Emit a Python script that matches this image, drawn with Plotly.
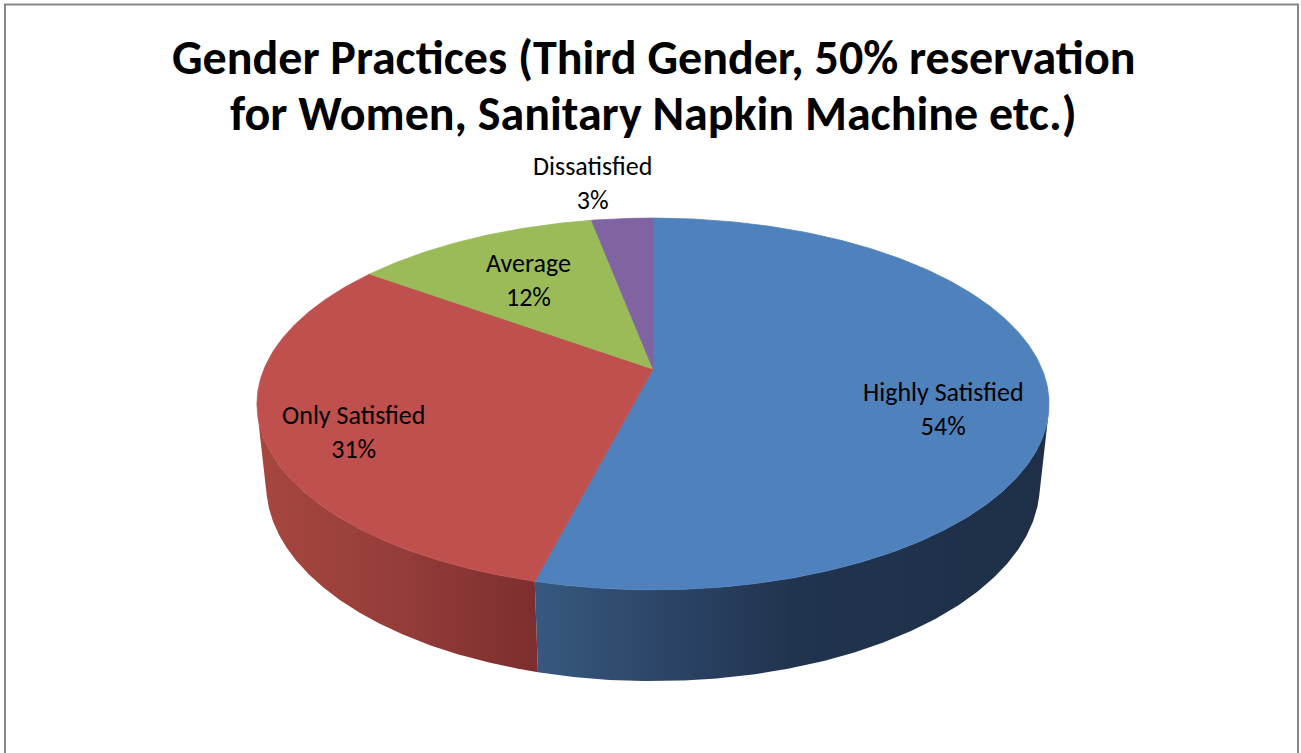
import numpy as np
import plotly.graph_objects as go

# ---------------- data ----------------
categories = ["Highly Satisfied", "Only Satisfied", "Average", "Dissatisfied"]
values = [54, 31, 12, 3]
title_lines = ["Gender Practices (Third Gender, 50% reservation",
               "for Women, Sanitary Napkin Machine etc.)"]

# ---------------- styles ----------------
top_colors = ["#4F81BD", "#C0504D", "#9BBB59", "#8064A2"]
side_scales = [
    [[0, "#37597f"], [0.25, "#2c4567"], [0.5, "#21344f"], [1, "#1e2f47"]],
    [[0, "#a7473f"], [0.5, "#953d3a"], [1, "#7c2e2e"]],
    [[0, "#7b9443"], [1, "#5e7233"]],
    [[0, "#65508a"], [1, "#4d3d6a"]],
]
label_xy = [(943, 409), (353, 432), (528, 280), (592, 183)]
title_y = [57, 113]
FONT = "Carlito, Lato, 'Noto Sans', sans-serif"
W, Hpx = 1301, 753

# perspective camera for the tilted 3D pie (in units of pie radius)
CX, CY = 653.0, 369.0
PHI = np.radians(27.45)
D = 4.72
F = 1836.0
THICK = 0.2355


def project(theta_deg, z=0.0):
    th = np.radians(theta_deg)
    X = np.sin(th)
    Y = -np.cos(th)
    depth = D - Y * np.cos(PHI) - z * np.sin(PHI)
    x = CX + F * X / depth
    y = CY + F * (Y * np.sin(PHI) - z * np.cos(PHI)) / depth
    return x, y


total = float(sum(values))
bounds = np.concatenate([[0.0], np.cumsum(values) / total * 360.0])

fig = go.Figure()

# visible side range of the cylinder
sil = np.degrees(np.arccos(-1.0 / (D * np.cos(PHI))))
vis_a, vis_b = sil, 360.0 - sil

# sides first
for i, cat in enumerate(categories):
    a, b = max(bounds[i], vis_a), min(bounds[i + 1], vis_b)
    if b <= a:
        continue
    th = np.linspace(a, b, 200)
    xt, yt = project(th, 0.0)
    xb, yb = project(th[::-1], -THICK)
    xs = np.concatenate([xt, xb, xt[:1]])
    ys = np.concatenate([yt, yb, yt[:1]])
    fig.add_trace(go.Scatter(
        x=xs, y=ys, mode="lines", fill="toself",
        line=dict(width=0),
        fillgradient=dict(type="horizontal", colorscale=side_scales[i]),
        hoverinfo="skip", showlegend=False,
    ))

# top faces
for i, cat in enumerate(categories):
    th = np.linspace(bounds[i], bounds[i + 1], max(int((bounds[i + 1] - bounds[i]) * 2), 10))
    xa, ya = project(th, 0.0)
    xs = np.concatenate([[CX], xa, [CX]])
    ys = np.concatenate([[CY], ya, [CY]])
    fig.add_trace(go.Scatter(
        x=xs, y=ys, mode="lines", fill="toself",
        fillcolor=top_colors[i], line=dict(width=0.8, color=top_colors[i]),
        name=cat, hoverinfo="name", showlegend=False,
    ))

# data labels
for i, cat in enumerate(categories):
    pct = f"{values[i] / total * 100:.0f}%"
    fig.add_annotation(
        x=label_xy[i][0], y=label_xy[i][1], xref="x", yref="y",
        text=f"{cat}<br>{pct}", showarrow=False,
        font=dict(family=FONT, size=26, color="#000000"),
        align="center", xanchor="center", yanchor="middle",
    )

# title (two lines)
for line, ty in zip(title_lines, title_y):
    fig.add_annotation(
        x=653.5, y=ty, xref="x", yref="y", text=line,
        showarrow=False, align="center", xanchor="center", yanchor="middle",
        font=dict(family=FONT, size=48, color="#000000", weight="bold"),
    )

# chart frame
fig.add_shape(type="rect", xref="x", yref="y", x0=5, x1=1298, y0=4.5, y1=800,
              line=dict(color="#878787", width=2), fillcolor="rgba(0,0,0,0)", layer="above")

fig.update_layout(
    width=W, height=Hpx,
    margin=dict(l=0, r=0, t=0, b=0),
    paper_bgcolor="white", plot_bgcolor="white",
    xaxis=dict(range=[0, W], visible=False, fixedrange=True),
    yaxis=dict(range=[Hpx, 0], visible=False, fixedrange=True),
    showlegend=False,
)

fig.write_html("out.html", config={"displayModeBar": False},
               post_script="document.body.style.margin='0';document.body.style.overflow='hidden';")
